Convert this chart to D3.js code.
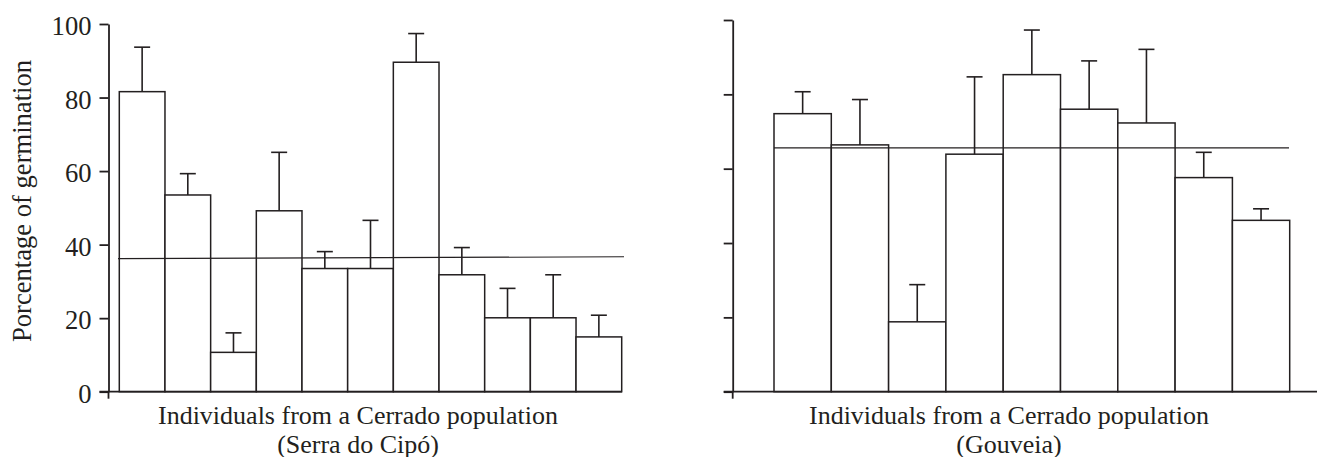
<!DOCTYPE html>
<html>
<head>
<meta charset="utf-8">
<script src="https://cdn.jsdelivr.net/npm/d3@7"></script>
<style>
  body { margin: 0; background: #fff; }
  text { font-family: "Liberation Serif", "Times New Roman", serif; fill: #231f20; }
</style>
</head>
<body>
<div id="chart"></div>
<script>
// Serra do Cipó
const cipoIds = ["1","2","3","4","5","6","7","8","9","10","11"];
const cipoMeans = [81.6, 53.5, 10.7, 49.2, 33.5, 33.5, 89.6, 31.8, 20.1, 20.1, 14.9];
const cipoTops = [93.7, 59.3, 16.0, 65.1, 38.1, 46.6, 97.4, 39.2, 28.1, 31.8, 20.8];
const cipoOverall = [36.2, 36.7];

// Gouveia
const gouvIds = ["1","2","3","4","5","6","7","8","9"];
const gouvMeans = [74.8, 66.4, 18.8, 63.9, 85.3, 76.0, 72.3, 57.6, 46.1];
const gouvTops = [80.7, 78.6, 28.8, 84.7, 97.3, 89.0, 92.1, 64.4, 49.2];
const gouvOverall = [65.6, 65.6];

const yTicks = [0, 20, 40, 60, 80, 100];
const yLabel = "Porcentage of germination";
const xLabel = "Individuals from a Cerrado population";

const width = 1318, height = 457;
const ink = "#231f20";
const fontSize = "26.6px";

const svg = d3.select("#chart").append("svg")
    .attr("width", width)
    .attr("height", height);

function panel(o) {
    const g = svg.append("g");

    const y = d3.scaleLinear().domain([0, 100]).range([391.7, o.top]);
    const x = d3.scaleBand().domain(o.ids).range([o.barStart, o.barEnd]).padding(0);

    const data = o.ids.map((id, i) => ({ id: id, v: o.means[i], top: o.tops[i] }));

    // bars
    g.selectAll("rect.bar").data(data).enter().append("rect")
        .attr("class", "bar")
        .attr("x", d => x(d.id))
        .attr("y", d => y(d.v))
        .attr("width", x.bandwidth())
        .attr("height", d => y(0) - y(d.v))
        .style("fill", "#fff")
        .style("stroke", ink)
        .style("stroke-width", 1.5);

    // error bars
    g.selectAll("line.err").data(data).enter().append("line")
        .attr("x1", d => x(d.id) + x.bandwidth() / 2)
        .attr("x2", d => x(d.id) + x.bandwidth() / 2)
        .attr("y1", d => y(d.v))
        .attr("y2", d => y(d.top))
        .style("stroke", ink).style("stroke-width", 1.6);
    g.selectAll("line.cap").data(data).enter().append("line")
        .attr("x1", d => x(d.id) + x.bandwidth() / 2 - 8)
        .attr("x2", d => x(d.id) + x.bandwidth() / 2 + 8)
        .attr("y1", d => y(d.top))
        .attr("y2", d => y(d.top))
        .style("stroke", ink).style("stroke-width", 1.6);

    // overall mean line
    g.append("line")
        .attr("x1", o.meanStart).attr("x2", o.meanEnd)
        .attr("y1", y(o.overall[0])).attr("y2", y(o.overall[1]))
        .style("stroke", ink).style("stroke-width", 1.1);

    // y axis
    const axis = g.append("g")
        .attr("transform", `translate(${o.axisX},0)`)
        .call(d3.axisLeft(y).tickValues(yTicks).tickSize(9).tickSizeOuter(0)
            .tickFormat(o.labels ? d3.format("d") : ""));
    axis.select(".domain").style("stroke", ink).style("stroke-width", 1.8);
    axis.selectAll(".tick line").style("stroke", ink).style("stroke-width", 1.8);
    axis.selectAll(".tick text")
        .attr("x", -17)
        .attr("dy", "0.4em")
        .style("font-size", fontSize)
        .style("font-family", "'Liberation Serif', serif")
        .style("fill", ink);
    g.append("line")
        .attr("x1", o.axisX).attr("x2", o.axisX)
        .attr("y1", y(0)).attr("y2", y(0) + 7)
        .style("stroke", ink).style("stroke-width", 1.8);

    // x axis line
    g.append("line")
        .attr("x1", o.axisX - 9).attr("x2", o.xEnd)
        .attr("y1", y(0)).attr("y2", y(0))
        .style("stroke", ink).style("stroke-width", 1.8);

    // x label, two lines
    g.append("text")
        .attr("x", o.labelX).attr("y", 423.5)
        .attr("text-anchor", "middle")
        .style("font-size", "26px")
        .text(xLabel);
    g.append("text")
        .attr("x", o.labelX).attr("y", 452.5)
        .attr("text-anchor", "middle")
        .style("font-size", "26px")
        .text(o.site);
}

panel({
    ids: cipoIds, means: cipoMeans, tops: cipoTops, overall: cipoOverall,
    top: 24, barStart: 119.3, barEnd: 621.7, meanStart: 118, meanEnd: 624,
    axisX: 108.5, xEnd: 622, labels: true, labelX: 358, site: "(Serra do Cipó)"
});

panel({
    ids: gouvIds, means: gouvMeans, tops: gouvTops, overall: gouvOverall,
    top: 20, barStart: 774, barEnd: 1289.7, meanStart: 774, meanEnd: 1289,
    axisX: 732.7, xEnd: 1317, labels: false, labelX: 1009, site: "(Gouveia)"
});

// y axis title
svg.append("text")
    .attr("transform", "translate(31,201) rotate(-90)")
    .attr("text-anchor", "middle")
    .style("font-size", fontSize)
    .text(yLabel);
</script>
</body>
</html>
